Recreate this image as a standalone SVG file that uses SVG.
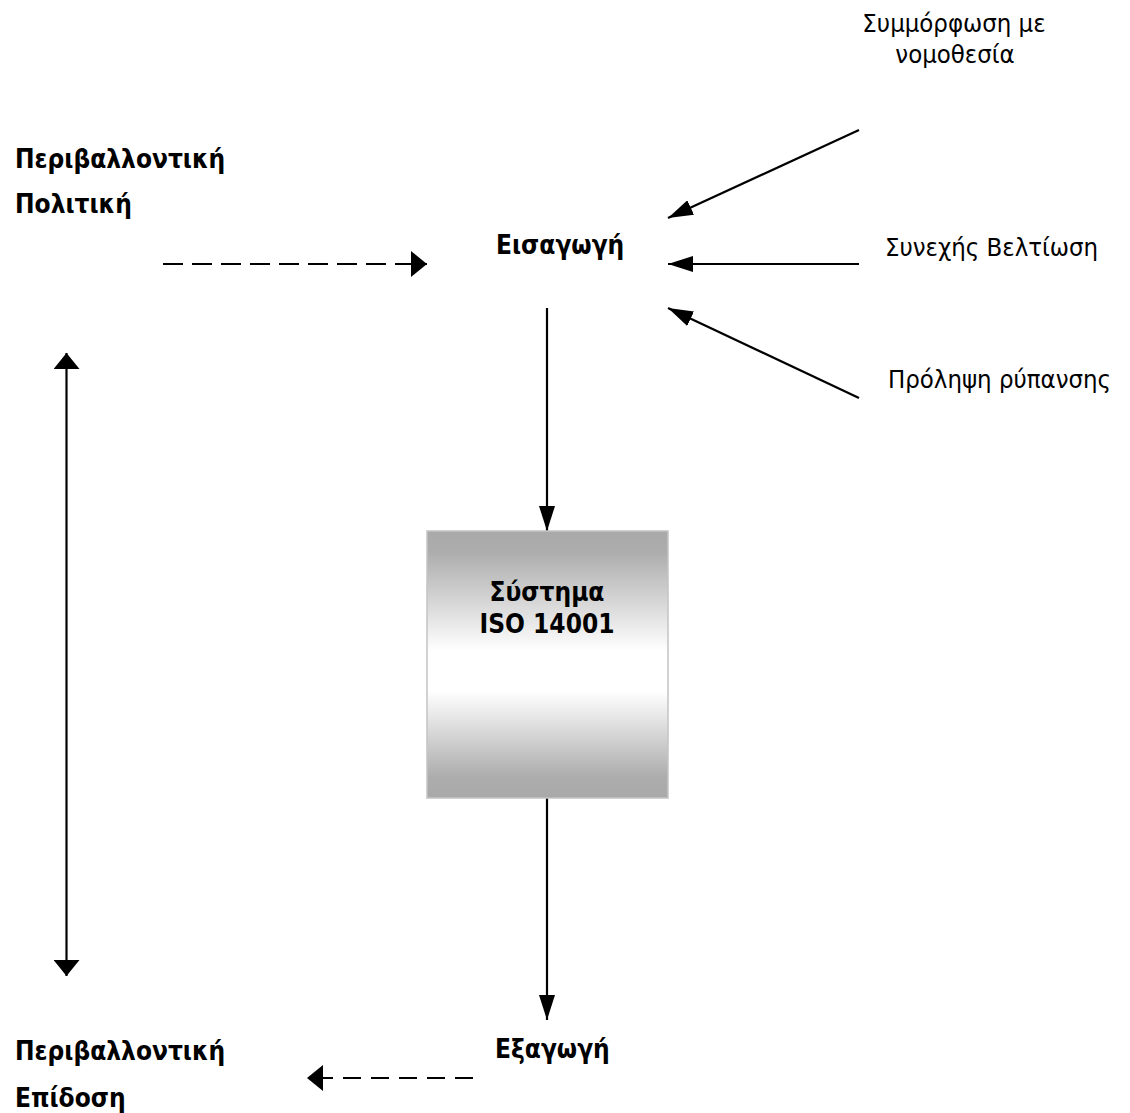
<svg xmlns="http://www.w3.org/2000/svg" width="1130" height="1113" viewBox="0 0 1130 1113">
<style>
.b{font-family:"DejaVu Sans Condensed","DejaVu Sans",sans-serif;font-stretch:condensed;font-weight:bold;font-size:26px;fill:#000}
.r{font-family:"DejaVu Sans Condensed","DejaVu Sans",sans-serif;font-stretch:condensed;font-size:25.5px;fill:#000}
.ln{stroke:#000;stroke-width:2.2;fill:none}
.dl{stroke:#000;stroke-width:2.2;fill:none}
</style>
<defs>
<linearGradient id="g" x1="0" y1="0" x2="0" y2="1">
<stop offset="0" stop-color="#a9a9a9"/>
<stop offset="0.08" stop-color="#adadad"/>
<stop offset="0.45" stop-color="#ffffff"/>
<stop offset="0.6" stop-color="#ffffff"/>
<stop offset="0.92" stop-color="#adadad"/>
<stop offset="1" stop-color="#a9a9a9"/>
</linearGradient>
<marker id="aL" viewBox="0 0 25 16" refX="25" refY="8" markerWidth="25" markerHeight="16" markerUnits="userSpaceOnUse" orient="auto"><path d="M0,0 L25,8 L0,16 z" fill="#000"/></marker>
<marker id="aW" viewBox="0 0 16 26" refX="16" refY="13" markerWidth="16" markerHeight="26" markerUnits="userSpaceOnUse" orient="auto-start-reverse"><path d="M0,0 L16,13 L0,26 z" fill="#000"/></marker>
</defs>
<g id="connectors">
<line class="dl" x1="163" y1="264" x2="427" y2="264" stroke-dasharray="20 9" marker-end="url(#aW)"/>
<line class="dl" x1="473" y1="1078" x2="307" y2="1078" stroke-dasharray="18 10" marker-end="url(#aW)"/>
<line class="ln" x1="66.5" y1="353" x2="66.5" y2="976" marker-start="url(#aW)" marker-end="url(#aW)"/>
<line class="ln" x1="547" y1="308" x2="547" y2="531" marker-end="url(#aL)"/>
<line class="ln" x1="547" y1="798" x2="547" y2="1020" marker-end="url(#aL)"/>
<line class="ln" x1="859" y1="130" x2="668" y2="218" marker-end="url(#aL)"/>
<line class="ln" x1="859" y1="264" x2="668" y2="264" marker-end="url(#aL)"/>
<line class="ln" x1="859" y1="398" x2="668" y2="308" marker-end="url(#aL)"/>
</g>
<g id="policy">
<text class="b" x="15" y="168">Περιβαλλοντική</text>
<text class="b" x="15" y="213">Πολιτική</text>
</g>
<g id="input">
<text class="b" x="496" y="254">Εισαγωγή</text>
</g>
<g id="compliance">
<text class="r" x="954" y="32" text-anchor="middle">Συμμόρφωση με</text>
<text class="r" x="955" y="63" text-anchor="middle">νομοθεσία</text>
</g>
<g id="improvement">
<text class="r" x="885" y="256">Συνεχής Βελτίωση</text>
</g>
<g id="prevention">
<text class="r" x="888" y="388">Πρόληψη ρύπανσης</text>
</g>
<g id="system">
<rect x="427" y="531" width="241" height="267" fill="url(#g)" stroke="#c4c4c4" stroke-width="1.5"/>
<text class="b" x="547" y="601" text-anchor="middle">Σύστημα</text>
<text class="b" x="547" y="633" text-anchor="middle">ISO 14001</text>
</g>
<g id="output">
<text class="b" x="495" y="1058">Εξαγωγή</text>
</g>
<g id="performance">
<text class="b" x="15" y="1060">Περιβαλλοντική</text>
<text class="b" x="15" y="1107">Επίδοση</text>
</g>
</svg>
